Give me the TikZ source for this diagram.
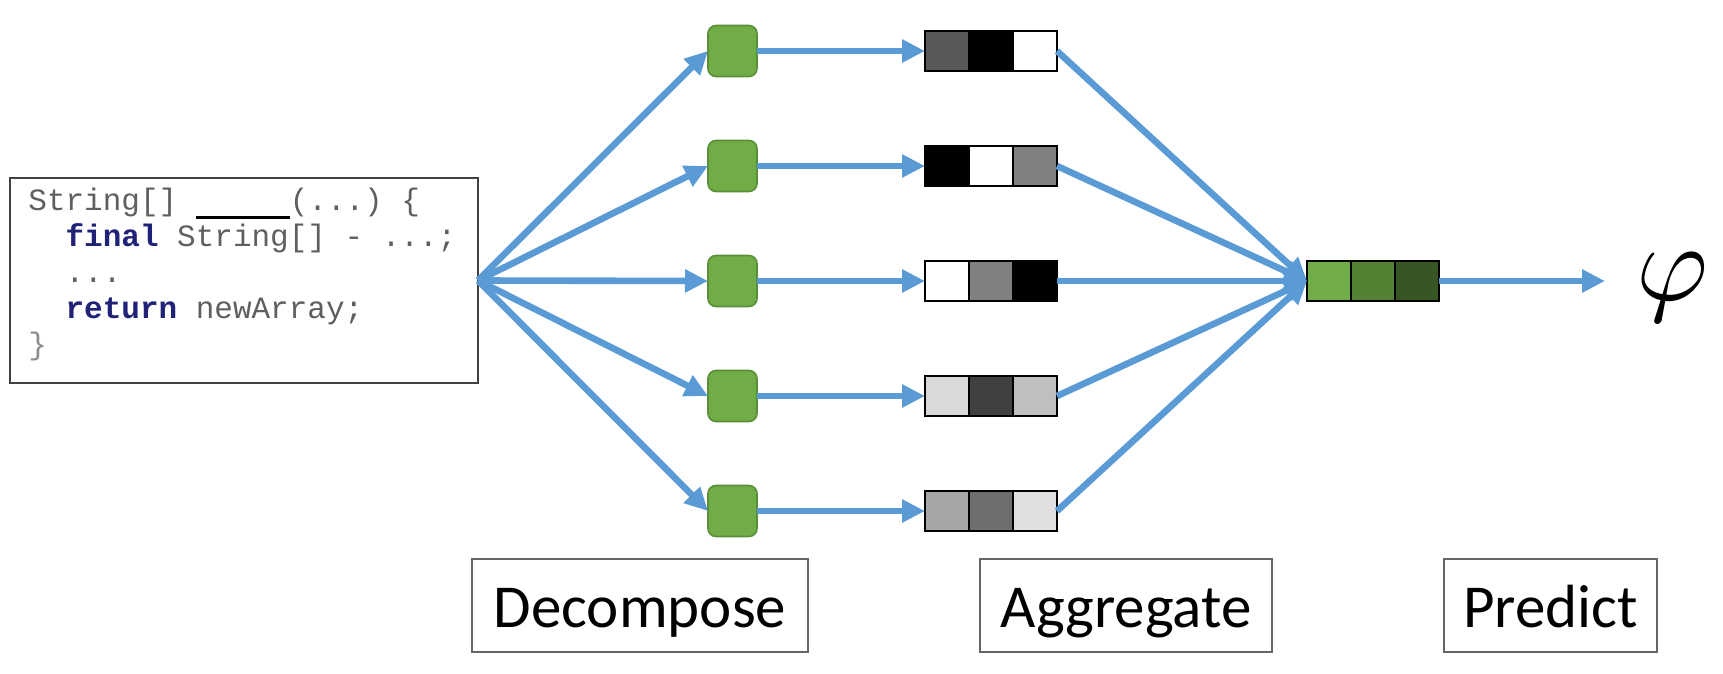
\documentclass[tikz,border=0pt]{standalone}
\usepackage{fontspec}
\usetikzlibrary{arrows.meta}
\newfontfamily\labelfont{Carlito}
\newfontfamily\codefont{Liberation Mono}
\definecolor{flowblue}{HTML}{5B9BD5}
\definecolor{leafgreen}{HTML}{70AD47}
\definecolor{leafedge}{HTML}{5A8F3A}
\definecolor{codegray}{HTML}{5F5F5F}
\definecolor{codekw}{HTML}{1F2277}
\definecolor{outA}{HTML}{70AD47}
\definecolor{outB}{HTML}{548235}
\definecolor{outC}{HTML}{375623}
\newcommand\keyword[1]{{\bfseries\color{codekw}#1}}
\tikzset{
  flow/.style={draw=flowblue, line width=3.3pt, -{Triangle[length=11.5pt,width=11pt]}},
  codebox/.style={draw=black!75, line width=1pt, minimum width=234pt, minimum height=102.5pt, inner sep=0pt, outer sep=0pt},
  codeline/.style={anchor=base west, inner sep=0pt, font=\codefont\fontsize{15.5}{17.7}\selectfont, text=codegray},
  leaf/.style={draw=leafedge, fill=leafgreen, line width=0.8pt, rounded corners=4pt, minimum width=24.5pt, minimum height=25.5pt, inner sep=0pt, outer sep=0pt},
  cell/.style={draw=black, line width=1pt, minimum width=22pt, minimum height=20pt, inner sep=0pt, outer sep=0pt},
  labelbox/.style={draw=black!60, line width=1.2pt, minimum height=46.5pt, inner sep=0pt, font=\labelfont\fontsize{30.5}{36}\selectfont, text height=21.5pt, text depth=0pt}
}
\begin{document}
\begin{tikzpicture}[x=0.5pt, y=-0.5pt]
\useasboundingbox[fill=white] (0,0) rectangle (1723,674);

% source snippet
\node[codebox] (code) at (244,280.5) {};
\node[codeline] (c1) at (28,210) {String[]~{\color{black}\smash{\rule[-4.6pt]{47pt}{1.8pt}}}(...)~\{};
\node[codeline] (c2) at (28,246) {\phantom{xx}\keyword{final} String[] - ...;};
\node[codeline] (c3) at (28,282) {\phantom{xx}...};
\node[codeline] (c4) at (28,318) {\phantom{xx}\keyword{return} newArray;};
\node[codeline, text=black!45] (c5) at (28,354) {\}};

% aggregated vector
\node[cell, fill=outA] (fa) at (1329,281) {};
\node[cell, fill=outB] (fb) at (1373,281) {};
\node[cell, fill=outC] (fc) at (1417,281) {};

% paths: decomposition, per-path vectors, aggregation
\foreach \r/\y/\ca/\cb/\cc in {1/51/black!65/black/white,
                                2/166/black/white/black!50,
                                3/281/white/black!50/black,
                                4/396/black!15/black!75/black!25,
                                5/511/black!35/black!57/black!12}{
  \node[leaf] (sq\r) at (732.5,\y) {};
  \node[cell, fill=\ca] (va\r) at (947,\y) {};
  \node[cell, fill=\cb] (vb\r) at (991,\y) {};
  \node[cell, fill=\cc] (vc\r) at (1035,\y) {};
  \draw[flow] (code.east) -- (sq\r.west);
  \draw[flow] (sq\r.east) -- (va\r.west);
  \draw[flow] (vc\r.east) -- (fa.west);
}

% prediction
\coordinate (out) at (1605,281);
\draw[flow] (fc.east) -- (out);
\node[inner sep=0pt] (phi) at (1672,287.5) {\scalebox{5.5}{$\varphi$}};

% stage labels
\node[labelbox, minimum width=168pt] (decomp) at (640,605.5) {Decompose};
\node[labelbox, minimum width=146pt] (aggr) at (1126,605.5) {Aggregate};
\node[labelbox, minimum width=106.5pt] (pred) at (1550.5,605.5) {Predict};
\end{tikzpicture}
\end{document}
